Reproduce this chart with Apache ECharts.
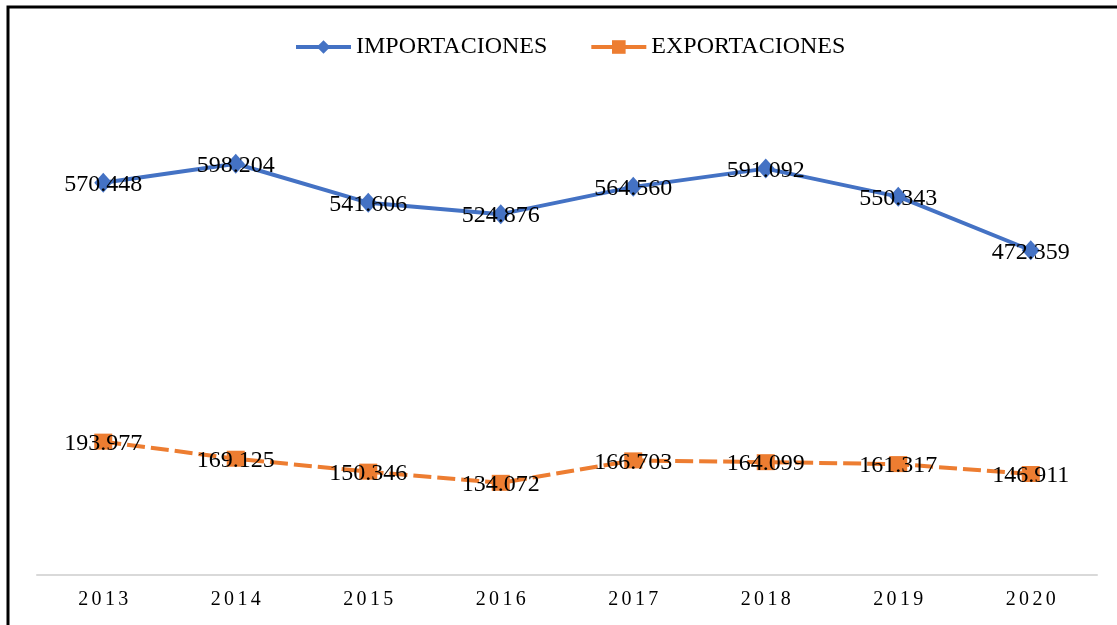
<!DOCTYPE html>
<html>
<head>
<meta charset="utf-8">
<script src="https://cdn.jsdelivr.net/npm/echarts@6/dist/echarts.min.js"></script>
<style>
  html, body { margin: 0; padding: 0; background: #fff; }
  #mychart { width: 1117px; height: 625px; }
</style>
</head>
<body>
<div id="mychart"></div>
<script>
// datos
var years = ['2013', '2014', '2015', '2016', '2017', '2018', '2019', '2020'];
var importaciones = [570.448, 598.204, 541.606, 524.876, 564.560, 591.092, 550.343, 472.359];
var exportaciones = [193.977, 169.125, 150.346, 134.072, 166.703, 164.099, 161.317, 146.911];

var serif = '"Liberation Serif", "Times New Roman", serif';

var mychart = echarts.init(document.getElementById('mychart'));
var option = {
  animation: false,
  textStyle: { fontFamily: serif },
  graphic: [{
    type: 'rect',
    shape: { x: 8, y: 7, width: 1300, height: 800 },
    style: { fill: 'none', stroke: '#000', lineWidth: 3 },
    silent: true
  }],
  legend: {
    top: 30,
    left: 289,
    itemWidth: 55,
    itemHeight: 17,
    itemGap: 42,
    lineStyle: { width: 4, type: 'solid' },
    textStyle: { fontSize: 24, color: '#000', fontFamily: serif },
    data: ['IMPORTACIONES', 'EXPORTACIONES']
  },
  grid: { top: 25, bottom: 50, left: 37, right: 20 },
  xAxis: {
    type: 'category',
    data: years,
    axisLine: { lineStyle: { color: '#d9d9d9', width: 2 } },
    axisTick: { show: false },
    axisLabel: {
      margin: 15,
      fontSize: 20,
      color: '#000',
      fontFamily: serif,
      formatter: function (v) { return v.split('').join('\u2006'); }
    }
  },
  yAxis: {
    type: 'value',
    min: 0,
    max: 800,
    show: false,
    splitLine: { show: false }
  },
  series: [
    {
      name: 'IMPORTACIONES',
      type: 'line',
      data: importaciones,
      symbol: 'diamond',
      symbolSize: [18, 20],
      lineStyle: { color: '#4472C4', width: 4 },
      itemStyle: { color: '#4472C4' },
      label: {
        show: true,
        position: 'inside',
        offset: [0, 2],
        color: '#000',
        fontSize: 24,
        fontFamily: serif,
        formatter: function (p) { return p.value.toFixed(3); }
      }
    },
    {
      name: 'EXPORTACIONES',
      type: 'line',
      data: exportaciones,
      symbol: 'rect',
      symbolSize: [18, 16],
      lineStyle: { color: '#ED7D31', width: 4, type: [18, 6] },
      itemStyle: { color: '#ED7D31' },
      label: {
        show: true,
        position: 'inside',
        offset: [0, 2],
        color: '#000',
        fontSize: 24,
        fontFamily: serif,
        formatter: function (p) { return p.value.toFixed(3); }
      }
    }
  ]
};
mychart.setOption(option);
</script>
</body>
</html>
